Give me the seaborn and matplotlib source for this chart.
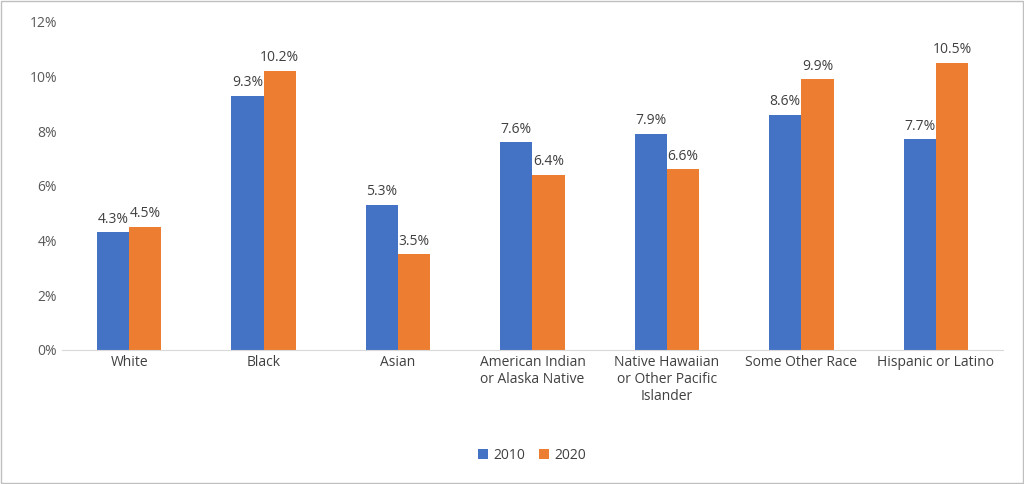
import matplotlib
matplotlib.use("Agg")
import matplotlib.pyplot as plt
import seaborn as sns
import pandas as pd

categories = ["White", "Black", "Asian", "American Indian\nor Alaska Native",
              "Native Hawaiian\nor Other Pacific\nIslander", "Some Other Race", "Hispanic or Latino"]
v2010 = [4.3, 9.3, 5.3, 7.6, 7.9, 8.6, 7.7]
v2020 = [4.5, 10.2, 3.5, 6.4, 6.6, 9.9, 10.5]
years = ["2010", "2020"]

df = pd.DataFrame({"cat": categories * 2, "val": v2010 + v2020,
                   "year": [years[0]] * 7 + [years[1]] * 7})

sns.set_style("white")
plt.rcParams['font.family'] = ['Open Sans', 'DejaVu Sans']
fig = plt.figure(figsize=(10.24, 4.84), dpi=100)
ax = fig.add_axes([0.0605, 0.277, 0.919, 0.678])
sns.barplot(data=df, x="cat", y="val", hue="year", palette=["#4472C4", "#ED7D31"],
            width=0.48, ax=ax, legend=True, saturation=1, linewidth=0)
for c in ax.containers:
    ax.bar_label(c, labels=[f"{v:.1f}%" for v in c.datavalues], padding=4,
                 fontsize=10, color="#404040")
ax.set_ylim(0, 12)
ax.set_yticks(range(0, 13, 2))
ax.set_yticklabels([f"{t}%" for t in range(0, 13, 2)], fontsize=10, color="#595959")
ax.tick_params(axis="x", labelsize=10, colors="#404040", length=0)
ax.tick_params(axis="y", length=0)
for s in ["top", "right", "left"]:
    ax.spines[s].set_visible(False)
ax.spines["bottom"].set_color("#D9D9D9")
ax.set_xlabel("")
ax.set_ylabel("")
ax.legend(loc="center", ncol=2, frameon=False,
          fontsize=10, handlelength=0.7, handleheight=0.7, columnspacing=1.0,
          handletextpad=0.4, labelcolor="#404040")
leg = ax.get_legend()
leg.set_bbox_to_anchor((0.5, (1 - 455 / 484 - 0.277) / 0.678), transform=ax.transAxes)
fig.patches.append(plt.Rectangle((0.001, 0.002), 0.998, 0.996, transform=fig.transFigure,
                                 fill=False, edgecolor="#BFBFBF", linewidth=1))
fig.savefig("out.png", dpi=100)
